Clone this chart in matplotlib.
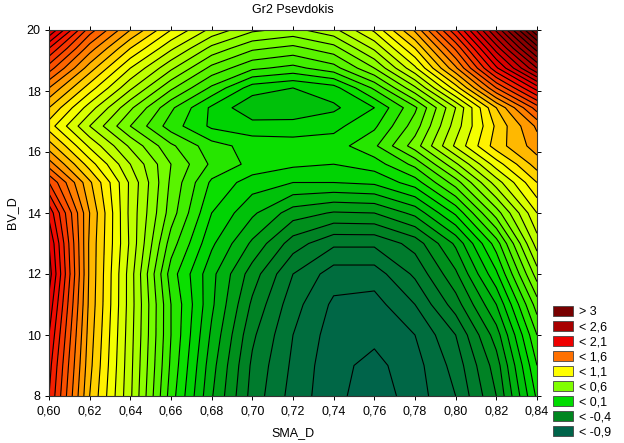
import numpy as np
import matplotlib
matplotlib.use("Agg")
import matplotlib.pyplot as plt
from matplotlib.colors import LinearSegmentedColormap
from matplotlib.patches import Patch

plt.rcParams['font.family'] = ['Liberation Sans', 'DejaVu Sans']

# ---- data ----
sma_d = [0.60, 0.62, 0.64, 0.66, 0.68, 0.70, 0.72, 0.74, 0.76, 0.78, 0.80, 0.82, 0.84]
bv_d = [8, 9, 10, 11, 12, 13, 14, 15, 15.6, 16.2, 16.85, 17.45, 18.1, 18.75, 19.4, 20]

z_y8    = [2.00, 1.30, 0.82, 0.25, -0.19, -0.54, -0.74, -0.87, -0.96, -0.85, -0.70, -0.40, 0.12]
z_y9    = [2.04, 1.33, 0.83, 0.28, -0.16, -0.52, -0.72, -0.87, -0.93, -0.84, -0.66, -0.35, 0.20]
z_y10   = [2.10, 1.35, 0.84, 0.30, -0.12, -0.48, -0.70, -0.85, -0.875, -0.80, -0.60, -0.25, 0.30]
z_y11   = [2.17, 1.37, 0.85, 0.30, -0.08, -0.42, -0.66, -0.82, -0.84, -0.70, -0.45, -0.10, 0.45]
z_y12   = [2.25, 1.38, 0.85, 0.25, -0.07, -0.35, -0.60, -0.75, -0.75, -0.58, -0.32, 0.08, 0.65]
z_y13   = [2.20, 1.38, 0.88, 0.35, 0.02, -0.22, -0.45, -0.58, -0.58, -0.46, -0.18, 0.25, 0.85]
z_y14   = [2.07, 1.40, 0.87, 0.45, 0.10, -0.08, -0.25, -0.31, -0.30, -0.17, 0.12, 0.55, 1.00]
z_y15   = [1.80, 1.32, 0.88, 0.48, 0.18, 0.05, 0.00, 0.00, 0.02, 0.15, 0.45, 0.85, 1.20]
z_y15_6 = [1.55, 1.15, 0.80, 0.50, 0.28, 0.17, 0.12, 0.10, 0.15, 0.33, 0.68, 1.05, 1.35]
z_y16_2 = [1.35, 0.98, 0.68, 0.42, 0.24, 0.16, 0.14, 0.15, 0.28, 0.55, 0.92, 1.25, 1.45]
z_y16_9 = [1.15, 0.80, 0.50, 0.25, 0.08, 0.04, 0.05, 0.07, 0.18, 0.45, 0.85, 1.22, 1.52]
z_y17_5 = [1.30, 0.95, 0.62, 0.32, 0.08, -0.08, -0.09, -0.02, 0.10, 0.38, 0.80, 1.30, 1.75]
z_y18_1 = [1.50, 1.15, 0.82, 0.52, 0.28, 0.05, 0.00, 0.06, 0.32, 0.68, 1.15, 1.70, 2.15]
z_y18_8 = [1.75, 1.35, 1.00, 0.72, 0.47, 0.32, 0.27, 0.36, 0.60, 0.98, 1.48, 2.08, 2.60]
z_y19_4 = [2.00, 1.55, 1.20, 0.92, 0.67, 0.52, 0.47, 0.56, 0.82, 1.20, 1.72, 2.35, 2.95]
z_y20   = [2.30, 1.75, 1.40, 1.10, 0.87, 0.72, 0.67, 0.77, 1.02, 1.42, 1.98, 2.62, 3.30]

legend_values = [-0.9, -0.4, 0.1, 0.6, 1.1, 1.6, 2.1, 2.6, 3.0]
legend_labels = ["< -0,9", "< -0,4", "< 0,1", "< 0,6", "< 1,1", "< 1,6", "< 2,1", "< 2,6", "> 3"]
x_tick_values = [0.60, 0.62, 0.64, 0.66, 0.68, 0.70, 0.72, 0.74, 0.76, 0.78, 0.80, 0.82, 0.84]
x_tick_labels = ["0,60", "0,62", "0,64", "0,66", "0,68", "0,70", "0,72", "0,74", "0,76", "0,78", "0,80", "0,82", "0,84"]
y_tick_values = [8, 10, 12, 14, 16, 18, 20]

# ---- styling ----
legend_colors = ["#00644a", "#00861f", "#00dc00", "#80ff00", "#ffff00",
                 "#ff7000", "#ee0000", "#a80000", "#780000"]

Z = np.array([z_y8, z_y9, z_y10, z_y11, z_y12, z_y13, z_y14, z_y15, z_y15_6,
              z_y16_2, z_y16_9, z_y17_5, z_y18_1, z_y18_8, z_y19_4, z_y20])
X, Y = np.meshgrid(sma_d, bv_d)

vmin, vmax = legend_values[0], legend_values[-1]
pos = [(v - vmin) / (vmax - vmin) for v in legend_values]
cmap = LinearSegmentedColormap.from_list("stat", list(zip(pos, legend_colors)))

levels = np.round(np.arange(-1.0, 3.45, 0.1), 2)
mids = (levels[:-1] + levels[1:]) / 2
band_colors = [cmap(np.clip((m - vmin) / (vmax - vmin), 0, 1)) for m in mids]

fig = plt.figure(figsize=(6.24, 4.43), dpi=100)
ax = fig.add_axes([49 / 624, 1 - 396 / 443, (537 - 49) / 624, (396 - 30) / 443])

ax.contourf(X, Y, Z, levels=levels, colors=band_colors)
ax.contour(X, Y, Z, levels=levels, colors="black", linewidths=0.8,
           linestyles="solid")

ax.set_xlim(0.60, 0.84)
ax.set_ylim(8, 20)
ax.set_xticks(x_tick_values)
ax.set_xticklabels(x_tick_labels)
ax.set_yticks(y_tick_values)
ax.set_yticklabels([str(v) for v in y_tick_values])
ax.tick_params(direction="out", top=True, right=True, length=3, width=0.7,
               labelsize=9, pad=3, colors="black")
ax.tick_params(axis="x", pad=4)
for s in ax.spines.values():
    s.set_linewidth(0.8)
    s.set_color("#333333")

ax.set_title("Gr2 Psevdokis", fontsize=9, pad=12)
ax.set_xlabel("SMA_D", fontsize=9, labelpad=7)
ax.set_ylabel("BV_D", fontsize=9, labelpad=6)

handles = [Patch(facecolor=c, edgecolor="#444444", linewidth=0.6) for c in legend_colors[::-1]]
fig.legend(handles, legend_labels[::-1], loc="upper left",
           bbox_to_anchor=(544 / 624, 1 - 297 / 443), frameon=False,
           fontsize=9, handlelength=1.6, handleheight=0.85, handletextpad=0.5,
           labelspacing=0.22, borderpad=0.2)

fig.savefig("out.png", dpi=100)
